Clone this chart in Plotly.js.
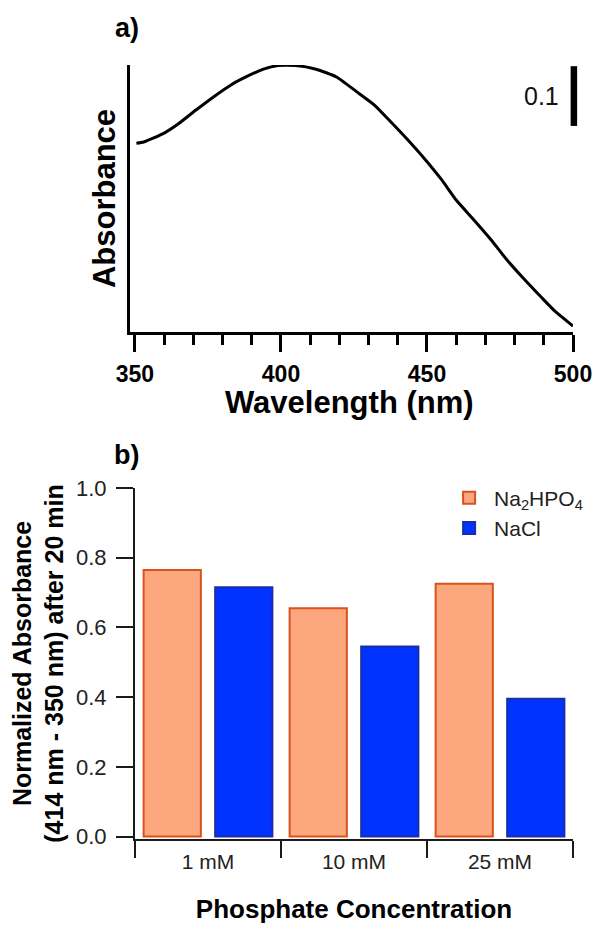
<!DOCTYPE html>
<html>
<head>
<meta charset="utf-8">
<script src="https://cdn.plot.ly/plotly-3.0.1.min.js"></script>
<style>
  html, body { margin: 0; padding: 0; background: #ffffff; }
  #chart { width: 598px; height: 926px; }
</style>
</head>
<body>
<div id="chart"></div>
<script>
// (a) UV-Vis spectrum
const wavelength = [350.5, 353, 360, 365, 371, 377, 383, 388, 394, 399, 405, 412, 419, 426,
                    432, 437, 443, 449, 455, 460, 466, 472, 477, 483, 489, 494, 500];
const absorbance = [0.316, 0.318, 0.333, 0.349, 0.372, 0.394, 0.414, 0.427, 0.440, 0.446,
                    0.446, 0.440, 0.427, 0.402, 0.380, 0.355, 0.324, 0.291, 0.255, 0.221,
                    0.188, 0.154, 0.123, 0.090, 0.059, 0.034, 0.010];
const scaleBarValue = 0.1;
const scaleBarTop = 0.445;

// (b) normalized absorbance after 20 min
const concentrations = ['1 mM', '10 mM', '25 mM'];
const phosphate = [0.765, 0.655, 0.725];
const chloride = [0.715, 0.545, 0.395];
const seriesNames = ['Na<sub>2</sub>HPO<sub>4</sub>', 'NaCl'];

const FONT = 'Liberation Sans, Arial, Helvetica, sans-serif';

const traces = [
  {
    x: wavelength, y: absorbance, xaxis: 'x', yaxis: 'y',
    type: 'scatter', mode: 'lines',
    line: { color: '#000000', width: 3, shape: 'spline', smoothing: 0.5 },
    showlegend: false, hoverinfo: 'x+y'
  },
  {
    x: concentrations, y: phosphate, xaxis: 'x2', yaxis: 'y2',
    type: 'bar', name: seriesNames[0],
    marker: { color: '#fca77d', line: { color: '#d8531c', width: 2 } }
  },
  {
    x: concentrations, y: chloride, xaxis: 'x2', yaxis: 'y2',
    type: 'bar', name: seriesNames[1],
    marker: { color: '#0033ff', line: { color: '#1a2ea8', width: 2 } }
  }
];

const layout = {
  width: 598, height: 926,
  margin: { l: 130, r: 25, t: 65, b: 87, autoexpand: false },
  paper_bgcolor: '#ffffff', plot_bgcolor: '#ffffff',
  font: { family: FONT, color: '#1a1a1a' },
  barmode: 'group', bargap: 0.02, bargroupgap: 0.2,
  xaxis: {
    domain: [0, 1], anchor: 'y', range: [348.3, 500], automargin: false,
    showline: true, linewidth: 3, linecolor: '#000000',
    showgrid: false, zeroline: false,
    ticks: 'outside', ticklen: 17, tickwidth: 3, tickcolor: '#000000',
    tick0: 350, dtick: 50, ticklabelstandoff: 2,
    tickfont: { family: FONT, size: 23, weight: 'bold', color: '#000000' },
    minor: { ticks: 'outside', tick0: 350, dtick: 10, ticklen: 10, tickwidth: 3, tickcolor: '#000000', showgrid: false }
  },
  yaxis: {
    domain: [0.655, 1], anchor: 'x', range: [0, 0.447], automargin: false,
    showline: true, linewidth: 3, linecolor: '#000000',
    showgrid: false, zeroline: false, ticks: '', showticklabels: false,
    title: { text: 'Absorbance', standoff: 3,
             font: { family: FONT, size: 31, weight: 'bold', color: '#000000' } }
  },
  xaxis2: {
    domain: [0.0113, 1], anchor: 'y2', type: 'category', automargin: false,
    showline: true, linewidth: 2, linecolor: '#1a1a1a',
    showgrid: false, zeroline: false,
    ticks: 'outside', tickson: 'boundaries', ticklen: 17, tickwidth: 2, tickcolor: '#1a1a1a',
    ticklabelstandoff: 3,
    tickfont: { family: FONT, size: 21, color: '#222222' },
    title: { text: 'Phosphate Concentration', standoff: 28,
             font: { family: FONT, size: 26, weight: 'bold', color: '#000000' } }
  },
  yaxis2: {
    domain: [0, 0.4535], anchor: 'x2', range: [-0.007, 1], automargin: false,
    showline: true, linewidth: 2, linecolor: '#1a1a1a',
    showgrid: false, zeroline: false,
    ticks: 'outside', ticklen: 17, tickwidth: 2, tickcolor: '#1a1a1a',
    tick0: 0, dtick: 0.2, tickformat: '.1f', ticklabelstandoff: 5,
    tickfont: { family: FONT, size: 22, color: '#222222' },
    title: { text: 'Normalized Absorbance<br>(414 nm - 350 nm) after 20 min', standoff: 5,
             font: { family: FONT, size: 25, weight: 'bold', color: '#000000' } }
  },
  legend: {
    x: 0.709, y: 0.467, xanchor: 'left', yanchor: 'top',
    bgcolor: 'rgba(0,0,0,0)', borderwidth: 0, itemwidth: 40,
    font: { family: FONT, size: 21, color: '#222222' }
  },
  shapes: [
    {
      type: 'line', layer: 'above',
      xref: 'paper', x0: 1.002, x1: 1.002,
      yref: 'y', y0: scaleBarTop - scaleBarValue, y1: scaleBarTop,
      line: { color: '#000000', width: 6.5 }
    }
  ],
  annotations: [
    // x-axis title of the spectrum panel, set close under the tick labels
    { text: '<b>Wavelength (nm)</b>', xref: 'paper', x: 0.495, xanchor: 'center',
      yref: 'paper', y: 0.5645, yanchor: 'middle', showarrow: false,
      font: { family: FONT, size: 31, color: '#000000' } },
    { text: scaleBarValue.toFixed(1), xref: 'paper', x: 1, xanchor: 'right', xshift: -12,
      yref: 'y', y: scaleBarTop - scaleBarValue / 2, yanchor: 'middle', showarrow: false,
      font: { family: FONT, size: 25, color: '#111111' } },
    { text: '<b>a)</b>', xref: 'paper', x: -0.038, xanchor: 'left',
      yref: 'paper', y: 1.048, yanchor: 'middle', showarrow: false,
      font: { family: FONT, size: 27, color: '#000000' } },
    { text: '<b>b)</b>', xref: 'paper', x: -0.0406, xanchor: 'left',
      yref: 'paper', y: 0.496, yanchor: 'middle', showarrow: false,
      font: { family: FONT, size: 27, color: '#000000' } }
  ]
};

Plotly.newPlot('chart', traces, layout, { staticPlot: true, displayModeBar: false });
</script>
</body>
</html>
